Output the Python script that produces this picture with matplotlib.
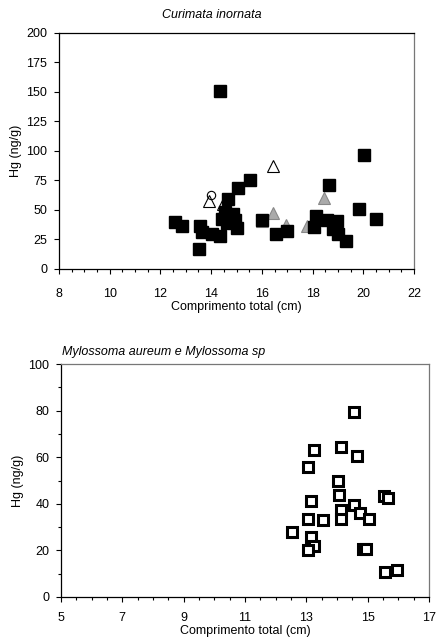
import matplotlib
matplotlib.use('Agg')
import matplotlib.pyplot as plt
from matplotlib.ticker import MultipleLocator

plt.rcParams['font.family'] = ['Liberation Sans', 'DejaVu Sans']
plt.rcParams['font.size'] = 9

# Curimata inornata
sq_x = [14.35, 20.04, 18.65, 15.53, 15.04, 14.65, 19.83, 20.5, 16.0, 12.57, 12.84,
        13.56, 13.63, 14.02, 14.35, 13.53, 14.41, 14.55, 14.88, 14.61, 14.94, 15.0,
        16.55, 17.0, 18.12, 18.07, 18.55, 18.97, 18.82, 19.0, 19.32]
sq_y = [150.5, 97, 71, 75.5, 69, 59.5, 51, 42, 41.5, 40, 36.5,
        36.5, 31.5, 30, 28, 17, 42, 48.5, 47, 39, 41.5, 34.5,
        30, 32.5, 44.5, 36, 41.5, 40.5, 34, 30, 24]
open_tri_x = [16.45, 13.93, 14.48]
open_tri_y = [87.5, 58, 55.5]
gray_tri_x = [16.45, 18.45, 17.77, 16.94, 16.0]
gray_tri_y = [47.5, 60, 36.5, 37, 40.5]
circ_x = [13.98]
circ_y = [62.5]

# Mylossoma aureum e Mylossoma sp
my_x = [14.54, 13.25, 14.12, 14.64, 13.06, 14.04, 14.05, 13.14, 15.54, 15.65,
        14.56, 14.12, 14.75, 13.06, 14.12, 15.05, 13.54, 12.54, 13.14, 13.25,
        13.06, 14.85, 14.96, 15.56, 15.95]
my_y = [79.5, 63, 64.2, 60.4, 55.7, 49.6, 43.6, 41, 43.3, 42.6,
        39.6, 37.2, 36, 33.6, 33.6, 33.6, 32.9, 27.9, 25.8, 21.9,
        20.1, 20.4, 20.6, 10.8, 11.8]

fig = plt.figure(figsize=(4.37, 6.42), dpi=100)

def style(ax, xpad):
    ax.tick_params(which='both', direction='out', labelsize=9, width=0.8)
    ax.tick_params(axis='y', pad=5)
    ax.tick_params(axis='x', pad=xpad)
    ax.tick_params(which='major', length=3.5)
    ax.tick_params(which='minor', length=2)
    for s in ax.spines.values():
        s.set_linewidth(0.9)
    ax.spines['right'].set_color('#777777')

# top chart
ax1 = fig.add_axes([0.135, 0.581, 0.8124, 0.3676])
ax1.plot(open_tri_x, open_tri_y, '^', ms=8, mfc='white', mec='black', mew=0.8, ls='none')
ax1.plot(gray_tri_x, gray_tri_y, '^', ms=8, mfc='#aaaaaa', mec='#888888', mew=0.8, ls='none')
ax1.plot(sq_x, sq_y, 's', ms=8.4, mfc='black', mec='black', ls='none')
ax1.plot(circ_x, circ_y, 'o', ms=6, mfc='none', mec='black', mew=0.8, ls='none')
ax1.set_xlim(8, 22)
ax1.set_ylim(0, 200)
ax1.xaxis.set_major_locator(MultipleLocator(2))
ax1.xaxis.set_minor_locator(MultipleLocator(0.5))
ax1.yaxis.set_major_locator(MultipleLocator(25))
ax1.set_xlabel('Comprimento total (cm)', labelpad=1)
ax1.set_ylabel('Hg (ng/g)', labelpad=3)
style(ax1, 10)
fig.text(162 / 437, 1 - 15 / 642, 'Curimata inornata', style='italic',
         ha='left', va='center', fontsize=9)

# bottom chart
ax2 = fig.add_axes([0.1396, 0.0701, 0.842, 0.3629])
ax2.plot(my_x, my_y, 's', ms=6.5, mfc='white', mec='black', mew=2.2, ls='none')
ax2.set_xlim(5, 17)
ax2.set_ylim(0, 100)
ax2.set_xticks(list(range(5, 18, 2)))
ax2.xaxis.set_minor_locator(MultipleLocator(0.5))
ax2.yaxis.set_major_locator(MultipleLocator(20))
ax2.yaxis.set_minor_locator(MultipleLocator(10))
ax2.set_xlabel('Comprimento total (cm)', labelpad=1)
ax2.set_ylabel('Hg (ng/g)', labelpad=3)
style(ax2, 7)
ax2.spines['top'].set_color('#777777')
fig.text(62 / 437, 1 - 352 / 642, 'Mylossoma aureum e Mylossoma sp', style='italic',
         ha='left', va='center', fontsize=9)

fig.savefig('out.png', dpi=100)
